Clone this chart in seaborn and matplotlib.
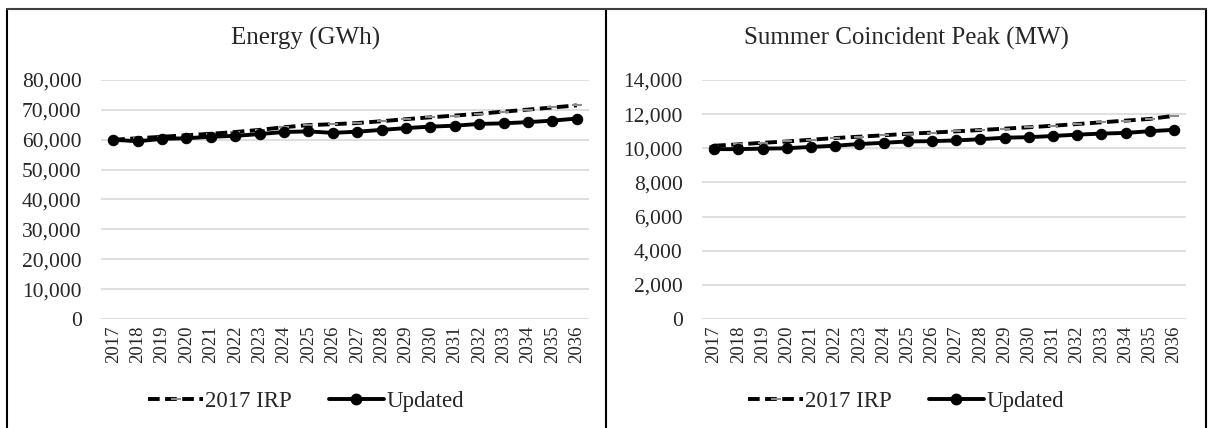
import pandas as pd
import numpy as np
import seaborn as sns
import matplotlib.pyplot as plt
from matplotlib.lines import Line2D
from matplotlib.ticker import FuncFormatter

# Дані
years = list(range(2017, 2037))

energy_irp = [60000, 60500, 61000, 61500, 62000, 62600, 63300, 64200, 64900, 65200,
              65600, 66200, 66900, 67500, 68100, 68700, 69400, 70100, 70800, 71500]
energy_upd = [60000, 59500, 60300, 60500, 61000, 61300, 61900, 62600, 62800, 62300,
              62700, 63300, 63900, 64400, 64700, 65300, 65500, 65900, 66400, 67100]

peak_irp = [10150, 10230, 10320, 10400, 10500, 10600, 10680, 10760, 10850, 10920,
            10990, 11070, 11150, 11230, 11320, 11420, 11520, 11620, 11720, 11900]
peak_upd = [9950, 9950, 9980, 10000, 10080, 10150, 10250, 10320, 10400, 10420,
            10460, 10530, 10620, 10650, 10720, 10800, 10860, 10900, 11000, 11080]

titles = ["Energy (GWh)", "Summer Coincident Peak (MW)"]
y_max = [80000, 14000]
y_step = [10000, 2000]

sns.set_style("white")
plt.rcParams['font.family'] = ['Liberation Serif', 'DejaVu Serif']

W, H = 1210, 428
fig = plt.figure(figsize=(W / 100, H / 100), dpi=100)

# Розташування областей у пікселях: (ліво, право, верх, низ)
boxes = [(101, 589, 80, 319), (702, 1186, 80, 319)]
panel_centers = [306, 906]
series = [(energy_irp, energy_upd), (peak_irp, peak_upd)]
dash = (0, (3, 1.4))

for i, (l, r, t, b) in enumerate(boxes):
    ax = fig.add_axes([l / W, 1 - b / H, (r - l) / W, (b - t) / H])
    irp, upd = series[i]
    df = pd.DataFrame({'year': years, '2017 IRP': irp, 'Updated': upd})

    sns.lineplot(data=df, x='year', y='2017 IRP', ax=ax, color='black', linewidth=2.8,
                 linestyle=dash, marker='_', markersize=7, markeredgewidth=1.5,
                 markeredgecolor='#8c8c8c', zorder=3)
    sns.lineplot(data=df, x='year', y='Updated', ax=ax, color='black', linewidth=2.8,
                 marker='o', markersize=7.5, markeredgecolor='black', zorder=4)

    ax.set_xlim(2016.5, 2036.5)
    ax.set_ylim(0, y_max[i])
    ax.set_yticks(np.arange(0, y_max[i] + 1, y_step[i]))
    ax.yaxis.set_major_formatter(FuncFormatter(lambda v, p: f"{int(v):,}"))
    ax.set_xticks(years)
    ax.set_xticklabels([str(y) for y in years], rotation=90, fontsize=13.5)
    ax.tick_params(axis='y', labelsize=15.5, length=0, pad=14)
    ax.tick_params(axis='x', length=0, pad=5)
    ax.grid(axis='y', color='#d9d9d9', linewidth=1.2)
    ax.set_axisbelow(True)
    for s in ax.spines.values():
        s.set_visible(False)
    ax.set_xlabel("")
    ax.set_ylabel("")

    # Заголовок і легенда центровані по всій панелі
    cx = panel_centers[i] / W
    fig.text(cx, 1 - 38 / H, titles[i], fontsize=18, ha='center', va='center')

    handles = [
        Line2D([], [], color='black', linewidth=2.8, linestyle=dash,
               marker='_', markersize=7, markeredgewidth=1.5, markeredgecolor='#8c8c8c',
               markevery=[1]),
        Line2D([], [], color='black', linewidth=2.8, marker='o', markersize=7.5),
    ]
    ax.legend(handles, ['2017 IRP', 'Updated'], loc='center',
              bbox_to_anchor=(cx, 1 - 401 / H), bbox_transform=fig.transFigure,
              ncol=2, frameon=False, fontsize=16.5,
              handlelength=2.4, handletextpad=0.1, columnspacing=1.6)

# Рамки навколо панелей
for x in (7, 606, 1206):
    fig.add_artist(Line2D([x / W, x / W], [0, 1 - 9 / H], color='black', linewidth=1.5))
fig.add_artist(Line2D([7 / W, 1206 / W], [1 - 9 / H, 1 - 9 / H], color='#404040', linewidth=1.5))

fig.savefig("out.png", dpi=100)
